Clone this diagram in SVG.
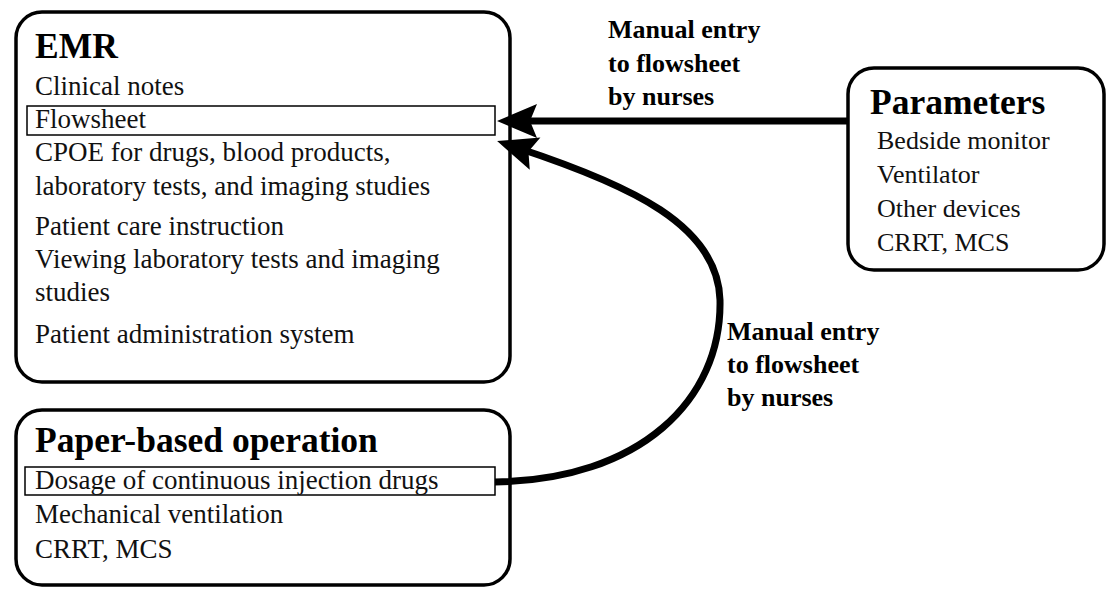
<svg xmlns="http://www.w3.org/2000/svg" width="1110" height="590" viewBox="0 0 1110 590">
<style>
.box{fill:#fff;stroke:#000;stroke-width:3.5}
.sub{fill:none;stroke:#000;stroke-width:1.5}
.t{font-family:"Liberation Serif","Times New Roman",serif;font-size:27px;fill:#111}
.p{font-family:"Liberation Serif","Times New Roman",serif;font-size:26px;fill:#111}
.h{font-family:"Liberation Serif","Times New Roman",serif;font-size:35.5px;font-weight:bold;fill:#000}
.l{font-family:"Liberation Serif","Times New Roman",serif;font-size:26px;font-weight:bold;fill:#000}
.c{fill:none;stroke:#000;stroke-width:7}
</style>
<defs>
<marker id="ah" markerUnits="userSpaceOnUse" markerWidth="60" markerHeight="60" viewBox="-30 -30 60 60" refX="0" refY="0" orient="auto">
<path d="M22,0 L-18,-17 L-11,0 L-18,17 Z" fill="#000"/>
</marker>
</defs>
<g id="emr">
<rect class="box" x="16" y="12" width="494" height="370" rx="26"/>
<text class="h" x="35" y="58">EMR</text>
<text class="t" x="35" y="95">Clinical notes</text>
<rect class="sub" x="27" y="106" width="468" height="29"/>
<text class="t" x="35" y="128">Flowsheet</text>
<text class="t" x="35" y="161">CPOE for drugs, blood products,</text>
<text class="t" x="35" y="195">laboratory tests, and imaging studies</text>
<text class="t" x="35" y="235">Patient care instruction</text>
<text class="t" x="35" y="268">Viewing laboratory tests and imaging</text>
<text class="t" x="35" y="301">studies</text>
<text class="t" x="35" y="343">Patient administration system</text>
</g>
<g id="parameters">
<rect class="box" x="848" y="68" width="256" height="202" rx="26"/>
<text class="h" x="870" y="114">Parameters</text>
<text class="p" x="877" y="149">Bedside monitor</text>
<text class="p" x="877" y="183">Ventilator</text>
<text class="p" x="877" y="217">Other devices</text>
<text class="p" x="877" y="251">CRRT, MCS</text>
</g>
<g id="paper">
<rect class="box" x="16" y="410" width="494" height="175" rx="26"/>
<text class="h" x="35" y="452">Paper-based operation</text>
<rect class="sub" x="25" y="467" width="470" height="28"/>
<text class="t" x="35" y="489">Dosage of continuous injection drugs</text>
<text class="t" x="35" y="523">Mechanical ventilation</text>
<text class="t" x="35" y="558">CRRT, MCS</text>
</g>
<g id="connectors">
<path class="c" d="M848,121 L519,121" marker-end="url(#ah)"/>
<path class="c" d="M495,482 C640,480 722,400 720,300 C718,225 630,185 518,148" marker-end="url(#ah)"/>
</g>
<g id="labels">
<text class="l" x="608" y="38">Manual entry</text>
<text class="l" x="608" y="72">to flowsheet</text>
<text class="l" x="608" y="105">by nurses</text>
<text class="l" x="727" y="340">Manual entry</text>
<text class="l" x="727" y="373">to flowsheet</text>
<text class="l" x="727" y="406">by nurses</text>
</g>
</svg>
